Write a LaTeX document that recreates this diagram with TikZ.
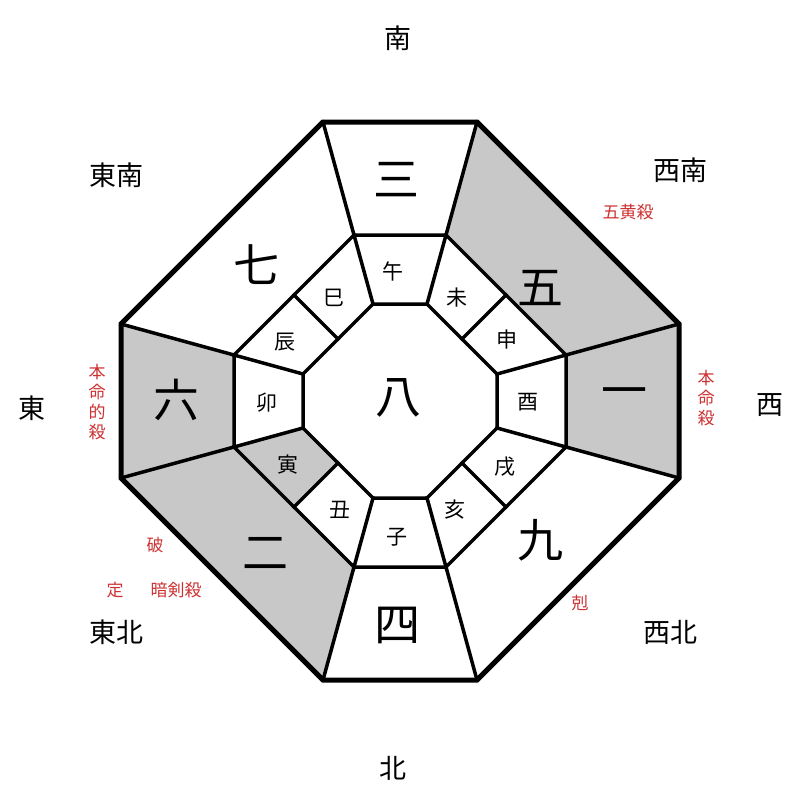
\documentclass[tikz,border=0pt]{standalone}
\usepackage{fontspec}
\setmainfont{Noto Sans CJK JP}
\usetikzlibrary{calc}
\definecolor{cellgray}{RGB}{200,200,200}
\definecolor{lblred}{RGB}{205,50,50}
\tikzset{
  big/.style={font=\fontsize{46}{46}\selectfont\addfontfeature{}},
  br/.style={font=\fontsize{21}{21}\selectfont},
  dir/.style={font=\fontsize{27}{27}\selectfont},
  red/.style={font=\fontsize{17}{20}\selectfont,text=lblred,align=center},
  thick5/.style={line width=5pt,line join=miter},
  thin4/.style={line width=3.5pt,line cap=rect}
}
\newcommand{\octa}[4]{% prefix, cx cy? use apothem, halfside
  \coordinate (#1a) at ({400-#3},{401-#2});
  \coordinate (#1b) at ({400+#3},{401-#2});
  \coordinate (#1c) at ({400+#2},{401-#3});
  \coordinate (#1d) at ({400+#2},{401+#3});
  \coordinate (#1e) at ({400+#3},{401+#2});
  \coordinate (#1f) at ({400-#3},{401+#2});
  \coordinate (#1g) at ({400-#2},{401+#3});
  \coordinate (#1h) at ({400-#2},{401-#3});
}
\begin{document}
\begin{tikzpicture}[x=1pt,y=-1pt]
\useasboundingbox (0,0) rectangle (800,800);
\fill[white] (0,0) rectangle (800,800);
\octa{O}{279}{77}{}
\octa{M}{166}{46}{}
\octa{I}{97}{27}{}
\foreach \p in {M,I}{
  \coordinate (\p bc) at ($(\p b)!0.5!(\p c)$);
  \coordinate (\p de) at ($(\p d)!0.5!(\p e)$);
  \coordinate (\p fg) at ($(\p f)!0.5!(\p g)$);
  \coordinate (\p ha) at ($(\p h)!0.5!(\p a)$);
}
% gray cells
\fill[cellgray] (Ob)--(Oc)--(Mc)--(Mb)--cycle;
\fill[cellgray] (Oc)--(Od)--(Md)--(Mc)--cycle;
\fill[cellgray] (Og)--(Oh)--(Mh)--(Mg)--cycle;
\fill[cellgray] (Of)--(Og)--(Mg)--(Mf)--cycle;
\fill[cellgray] (Mg)--(Mfg)--(Ifg)--(Ig)--cycle;
% lines
\foreach \v in {a,b,c,d,e,f,g,h}{
  \draw[thin4] (O\v)--(M\v);
  \draw[thin4] (M\v)--(I\v);
}
\foreach \v in {bc,de,fg,ha}{\draw[thin4] (M\v)--(I\v);}
\draw[thin4] (Ma)--(Mb)--(Mc)--(Md)--(Me)--(Mf)--(Mg)--(Mh)--cycle;
\draw[thin4] (Ia)--(Ib)--(Ic)--(Id)--(Ie)--(If)--(Ig)--(Ih)--cycle;
\draw[thick5] (Oa)--(Ob)--(Oc)--(Od)--(Oe)--(Of)--(Og)--(Oh)--cycle;
% big numbers
\node[big] (n3) at (396,180) {三};
\node[big] (n5) at (540,288) {五};
\node[big] (n1) at (624,398) {一};
\node[big] (n9) at (540,540) {九};
\node[big] (n4) at (397,625) {四};
\node[big] (n2) at (265,553) {二};
\node[big] (n6) at (176,400) {六};
\node[big] (n7) at (256,265) {七};
\node[big] (n8) at (398,398) {八};
% branches
\node[br] (b1) at (393,271) {午};
\node[br] (b2) at (457,298) {未};
\node[br] (b3) at (507,340) {申};
\node[br] (b4) at (528,402) {酉};
\node[br] (b5) at (505,467) {戌};
\node[br] (b6) at (455,510) {亥};
\node[br] (b7) at (397,537) {子};
\node[br] (b8) at (340,510) {丑};
\node[br] (b9) at (288,465) {寅};
\node[br] (b10) at (267,403) {卯};
\node[br] (b11) at (285,342) {辰};
\node[br] (b12) at (334,298) {巳};
% directions
\node[dir] (s) at (398,38) {南};
\node[dir] (se) at (116,175) {東南};
\node[dir] (sw) at (680,170) {西南};
\node[dir] (e) at (32,408) {東};
\node[dir] (w) at (770,405) {西};
\node[dir] (ne) at (116,632) {東北};
\node[dir] (nw) at (670,632) {西北};
\node[dir] (n) at (393,768) {北};
% red labels
\node[red] (r1) at (628,212) {五黄殺};
\node[red] (r2) at (706,398) {本\\命\\殺};
\node[red] (r3) at (97,402) {本\\命\\的\\殺};
\node[red] (r4) at (155,545) {破};
\node[red] (r5) at (115,590) {定};
\node[red] (r6) at (176,590) {暗剣殺};
\node[red] (r7) at (580,603) {剋};
\end{tikzpicture}
\end{document}
